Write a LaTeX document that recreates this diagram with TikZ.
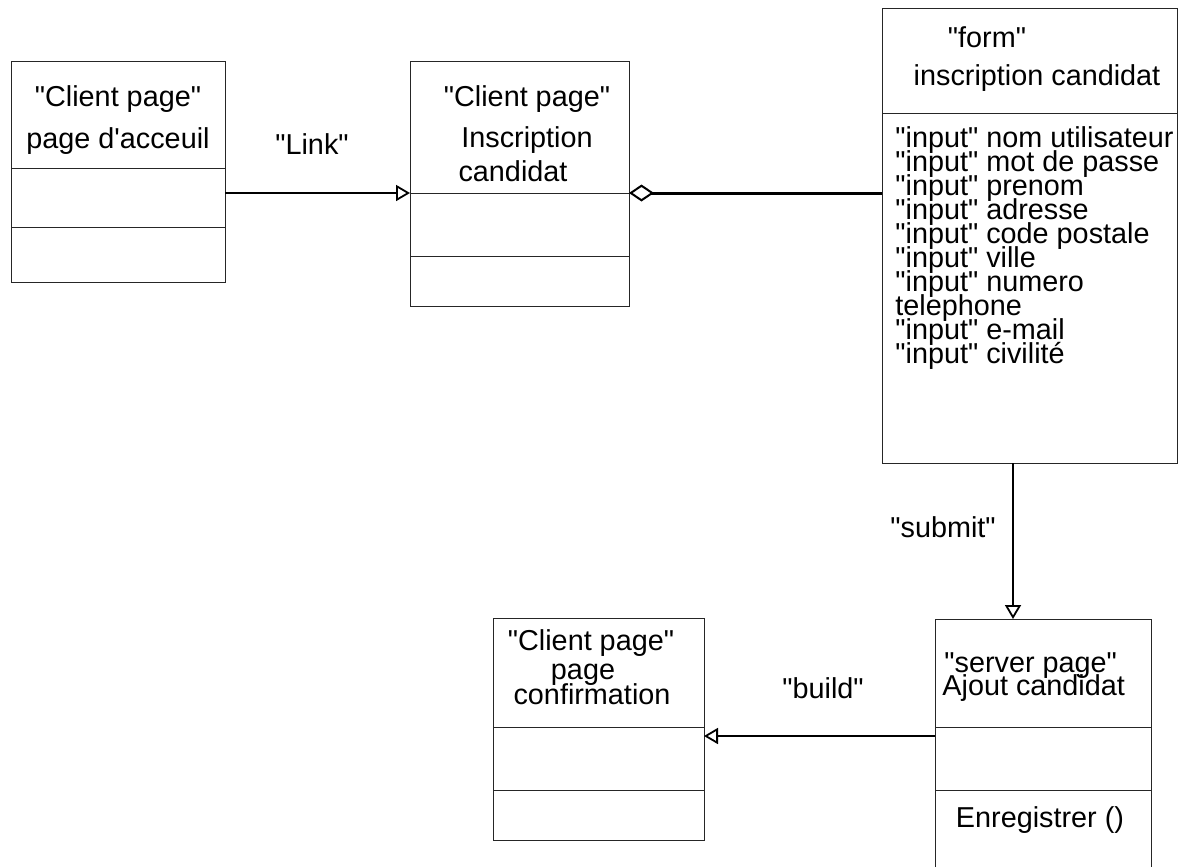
\documentclass[tikz,border=0pt]{standalone}
\usepackage{fontspec}
\setmainfont{Liberation Sans}[Ligatures=TeXOff]
\usetikzlibrary{arrows.meta}

\tikzset{
  box/.style={draw=black!85, line width=0.5pt},
  lbl/.style={anchor=base, inner sep=0pt},
  lblw/.style={anchor=base west, inner sep=0pt},
  rel/.style={line width=0.9pt, -{Triangle[open, length=7pt, width=8pt]}},
  aggr/.style={line width=1.5pt, {Diamond[open, length=12.5pt, width=8.5pt, line width=1pt]}-},
}

\begin{document}
\begin{tikzpicture}[x=0.5pt, y=-0.5pt, font=\fontsize{14.4}{17}\selectfont]
\useasboundingbox (0,0) rectangle (1187,867);

% page d'acceuil
\draw[box] (11,61) rectangle (225,282);
\draw[box] (11,168) -- (225,168);
\draw[box] (11,227) -- (225,227);
\node[lbl] (acc1) at (118,106) {"Client page"};
\node[lbl] (acc2) at (118,148) {page d'acceuil};

% inscription candidat (client page)
\draw[box] (410,61) rectangle (629,306);
\draw[box] (410,193) -- (629,193);
\draw[box] (410,256) -- (629,256);
\node[lbl] (insc1) at (527,106) {"Client page"};
\node[lbl] (insc2) at (527,147) {Inscription};
\node[lbl] (insc3) at (513,181) {candidat};

% form
\draw[box] (882,8) rectangle (1177,463);
\draw[box] (882,113) -- (1177,113);
\node[lbl] (form1) at (987,47) {"form"};
\node[lbl] (form2) at (1037,85) {inscription candidat};
\node[lblw] (in1) at (895,147) {"input" nom utilisateur};
\node[lblw] (in2) at (895,171) {"input" mot de passe};
\node[lblw] (in3) at (895,195) {"input" prenom};
\node[lblw] (in4) at (895,219) {"input" adresse};
\node[lblw] (in5) at (895,243) {"input" code postale};
\node[lblw] (in6) at (895,267) {"input" ville};
\node[lblw] (in7) at (895,291) {"input" numero};
\node[lblw] (in8) at (895,315) {telephone};
\node[lblw] (in9) at (895,339) {"input" e-mail};
\node[lblw] (in10) at (895,363) {"input" civilité};

% ajout candidat (server page)
\draw[box] (935,867) -- (935,619) -- (1151,619) -- (1151,867);
\draw[box] (935,727) -- (1151,727);
\draw[box] (935,790) -- (1151,790);
\node[lblw] (srv1) at (944,672) {"server page"};
\node[lblw] (srv2) at (942,695) {Ajout candidat};
\node[lbl] (srv3) at (1040,827) {Enregistrer ()};

% page confirmation
\draw[box] (493,618) rectangle (704,840);
\draw[box] (493,727) -- (704,727);
\draw[box] (493,790) -- (704,790);
\node[lbl] (conf1) at (591,650) {"Client page"};
\node[lbl] (conf2) at (583,679) {page};
\node[lbl] (conf3) at (592,704) {confirmation};

% relations
\coordinate (linkS) at (225,193);
\coordinate (linkE) at (410,193);
\draw[rel] (linkS) -- (linkE);
\node[lbl] (link) at (312,154) {"Link"};

\coordinate (aggS) at (629,193);
\coordinate (aggE) at (882,193);
\draw[aggr] (aggS) -- (aggE);

\coordinate (subS) at (1013,463);
\coordinate (subE) at (1013,619);
\draw[rel] (subS) -- (subE);
\node[lbl] (submit) at (943,537) {"submit"};

\coordinate (bldS) at (935,736);
\coordinate (bldE) at (704,736);
\draw[rel] (bldS) -- (bldE);
\node[lbl] (build) at (823,698) {"build"};
\end{tikzpicture}
\end{document}
